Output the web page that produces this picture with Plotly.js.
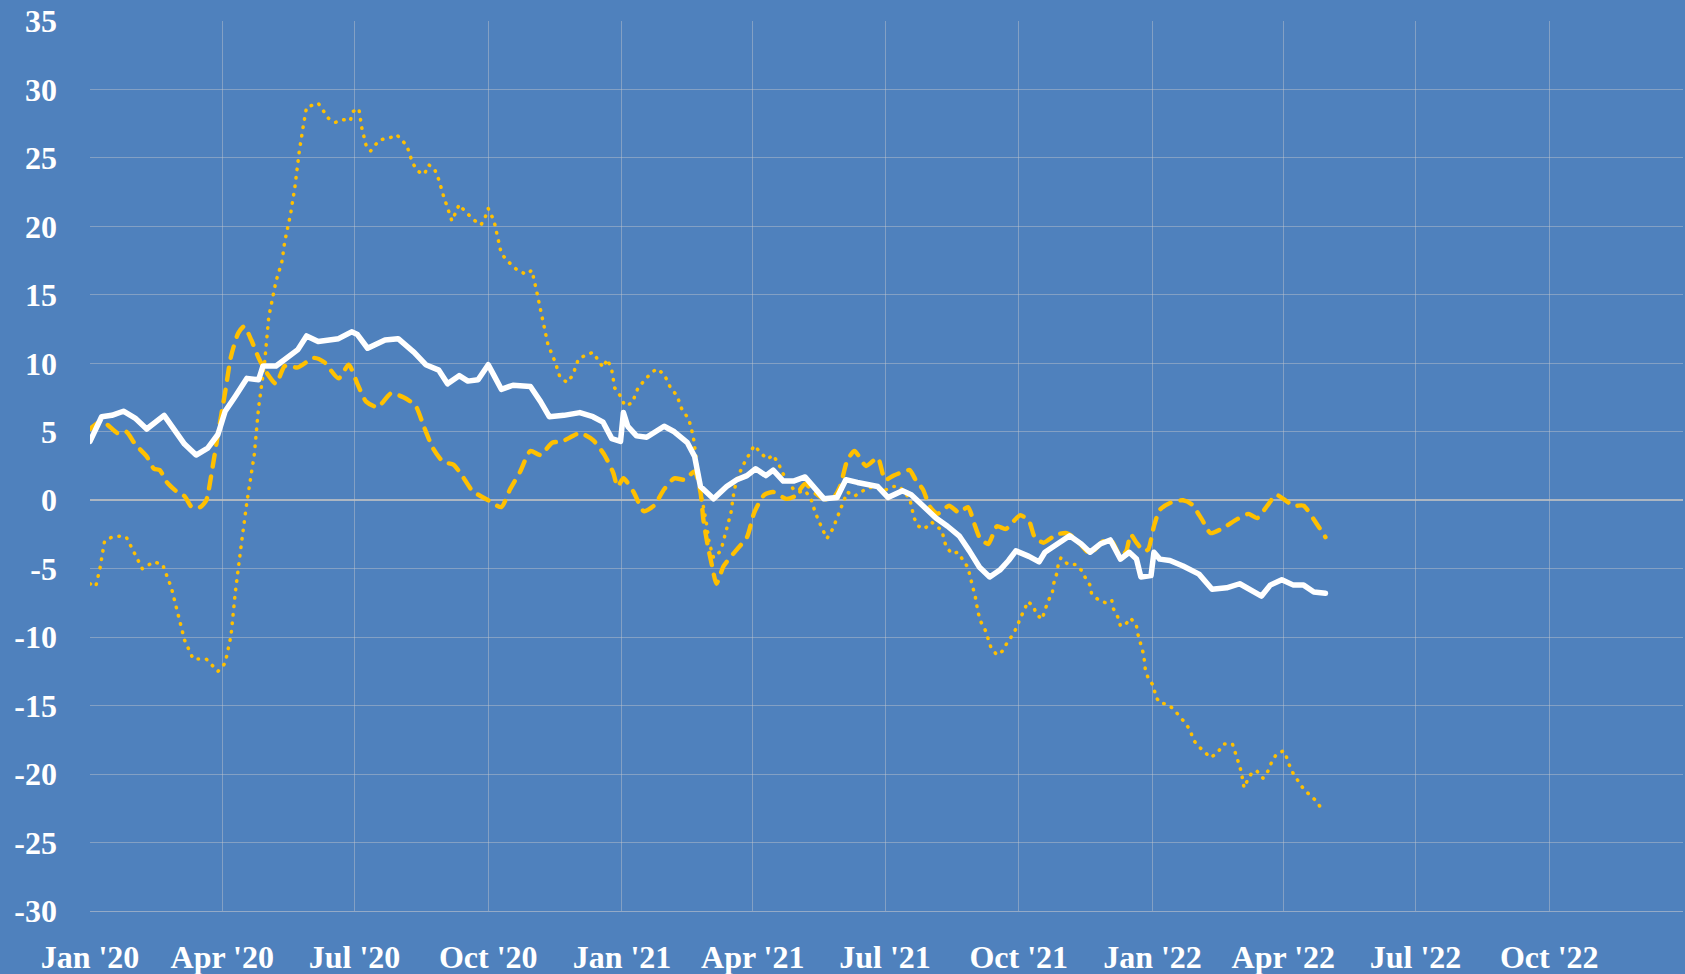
<!DOCTYPE html>
<html>
<head>
<meta charset="utf-8">
<script src="https://cdn.plot.ly/plotly-3.0.1.min.js"></script>
<style>
  html, body { margin: 0; padding: 0; background: #4F81BD; }
  #chart { width: 1685px; height: 974px; }
  .scatterlayer path.js-line { stroke-linecap: round; stroke-linejoin: round; }
</style>
</head>
<body>
<div id="chart"></div>
<script>
// ---- Data ----
const tickDates = ['2020-01-01','2020-04-01','2020-07-01','2020-10-01','2021-01-01','2021-04-01','2021-07-01','2021-10-01','2022-01-01','2022-04-01','2022-07-01','2022-10-01'];
const tickLabels = ["Jan '20","Apr '20","Jul '20","Oct '20","Jan '21","Apr '21","Jul '21","Oct '21","Jan '22","Apr '22","Jul '22","Oct '22"];
const yTicks = [35,30,25,20,15,10,5,0,-5,-10,-15,-20,-25,-30];
const yTickLabels = ['35','30','25','20','15','10','5','0','-5','-10','-15','-20','-25','-30'];

const solidDates = ['2020-01-01','2020-01-09','2020-01-16','2020-01-24','2020-02-01','2020-02-09','2020-02-21','2020-02-28','2020-03-06','2020-03-14','2020-03-22','2020-03-29','2020-04-03','2020-04-10','2020-04-18','2020-04-26','2020-04-29','2020-05-08','2020-05-16','2020-05-23','2020-05-29','2020-06-06','2020-06-20','2020-06-29','2020-07-03','2020-07-10','2020-07-22','2020-07-31','2020-08-11','2020-08-19','2020-08-28','2020-09-03','2020-09-11','2020-09-17','2020-09-24','2020-10-01','2020-10-05','2020-10-10','2020-10-18','2020-10-30','2020-11-06','2020-11-12','2020-11-22','2020-12-03','2020-12-12','2020-12-19','2020-12-25','2020-12-31','2021-01-02','2021-01-05','2021-01-11','2021-01-18','2021-01-30','2021-02-06','2021-02-15','2021-02-20','2021-02-24','2021-03-05','2021-03-14','2021-03-21','2021-03-28','2021-04-03','2021-04-10','2021-04-15','2021-04-22','2021-04-29','2021-05-07','2021-05-14','2021-05-20','2021-05-29','2021-06-04','2021-06-12','2021-06-26','2021-07-03','2021-07-13','2021-07-19','2021-07-27','2021-08-05','2021-08-13','2021-08-21','2021-08-28','2021-09-04','2021-09-11','2021-09-18','2021-09-24','2021-09-29','2021-10-08','2021-10-15','2021-10-19','2021-10-27','2021-11-05','2021-11-13','2021-11-19','2021-11-26','2021-12-03','2021-12-10','2021-12-16','2021-12-21','2021-12-24','2021-12-31','2022-01-02','2022-01-06','2022-01-13','2022-01-22','2022-02-02','2022-02-11','2022-02-21','2022-03-02','2022-03-09','2022-03-17','2022-03-23','2022-03-31','2022-04-08','2022-04-15','2022-04-22','2022-04-30'];
const solidValues = [4.3,6.1,6.2,6.5,6.0,5.2,6.2,5.2,4.1,3.3,3.8,4.8,6.5,7.6,8.9,8.8,9.8,9.8,10.5,11.0,12.0,11.6,11.8,12.3,12.1,11.1,11.7,11.8,10.8,9.9,9.5,8.5,9.1,8.7,8.8,9.9,9.1,8.1,8.4,8.3,7.2,6.1,6.2,6.4,6.1,5.7,4.5,4.3,6.4,5.4,4.7,4.6,5.4,5.0,4.2,3.2,1.0,0.1,1.0,1.5,1.8,2.3,1.8,2.2,1.4,1.4,1.7,0.9,0.1,0.2,1.5,1.3,1.0,0.2,0.7,0.4,-0.4,-1.3,-1.9,-2.6,-3.7,-4.9,-5.6,-5.1,-4.4,-3.7,-4.1,-4.5,-3.8,-3.2,-2.6,-3.2,-3.8,-3.2,-2.9,-4.3,-3.8,-4.3,-5.6,-5.5,-3.8,-4.3,-4.4,-4.8,-5.4,-6.5,-6.4,-6.1,-6.5,-7.0,-6.2,-5.8,-6.2,-6.2,-6.7,-6.8];

const dashDates = ['2020-01-01','2020-01-09','2020-01-20','2020-01-26','2020-02-01','2020-02-09','2020-02-14','2020-02-18','2020-02-23','2020-03-01','2020-03-06','2020-03-11','2020-03-17','2020-03-21','2020-03-25','2020-03-29','2020-04-03','2020-04-07','2020-04-12','2020-04-16','2020-04-21','2020-04-26','2020-05-01','2020-05-08','2020-05-14','2020-05-23','2020-06-03','2020-06-10','2020-06-20','2020-06-27','2020-07-03','2020-07-09','2020-07-17','2020-07-26','2020-08-04','2020-08-12','2020-08-18','2020-08-24','2020-08-31','2020-09-07','2020-09-13','2020-09-20','2020-10-01','2020-10-10','2020-10-16','2020-10-23','2020-10-30','2020-11-06','2020-11-14','2020-11-21','2020-12-03','2020-12-12','2020-12-20','2020-12-26','2020-12-29','2021-01-02','2021-01-09','2021-01-16','2021-01-23','2021-01-30','2021-02-06','2021-02-13','2021-02-20','2021-02-24','2021-02-26','2021-03-01','2021-03-04','2021-03-07','2021-03-12','2021-03-21','2021-03-28','2021-04-02','2021-04-09','2021-04-15','2021-04-24','2021-04-30','2021-05-07','2021-05-13','2021-05-20','2021-05-26','2021-05-31','2021-06-05','2021-06-10','2021-06-18','2021-06-26','2021-07-01','2021-07-07','2021-07-14','2021-07-18','2021-07-22','2021-07-27','2021-08-01','2021-08-06','2021-08-14','2021-08-21','2021-08-27','2021-09-01','2021-09-04','2021-09-10','2021-09-16','2021-09-22','2021-10-02','2021-10-08','2021-10-12','2021-10-18','2021-10-27','2021-11-03','2021-11-09','2021-11-19','2021-11-28','2021-12-04','2021-12-10','2021-12-14','2021-12-17','2021-12-21','2021-12-26','2021-12-29','2022-01-02','2022-01-06','2022-01-13','2022-01-22','2022-01-28','2022-02-04','2022-02-10','2022-02-19','2022-02-28','2022-03-08','2022-03-14','2022-03-21','2022-03-27','2022-04-01','2022-04-08','2022-04-15','2022-04-22','2022-04-30'];
const dashValues = [5.2,5.8,4.9,5.0,4.1,3.2,2.3,2.2,1.3,0.6,0.3,-0.5,-0.5,0.0,2.2,4.8,7.9,10.5,12.2,12.7,11.7,10.4,9.4,8.5,9.8,9.7,10.4,10.1,8.9,9.9,8.5,7.2,6.8,7.8,7.5,6.9,5.3,3.8,2.8,2.6,1.8,0.7,0.0,-0.5,0.8,2.1,3.6,3.3,4.2,4.3,4.9,4.4,3.3,2.0,1.0,1.6,0.6,-0.8,-0.4,0.8,1.6,1.5,2.1,0.6,-1.4,-3.3,-4.8,-6.1,-4.8,-3.6,-2.7,-0.9,0.4,0.6,0.1,0.3,1.2,0.6,0.1,0.1,1.0,2.9,3.6,2.5,3.1,1.5,1.8,2.1,2.2,1.5,0.8,-0.5,-1.0,-0.4,-0.9,-0.5,-1.9,-2.7,-3.2,-1.9,-2.1,-1.1,-1.5,-2.7,-3.1,-2.5,-2.4,-2.8,-3.9,-3.0,-3.0,-4.1,-3.7,-2.5,-3.1,-3.7,-3.6,-1.9,-0.7,-0.2,0.0,-0.3,-1.4,-2.4,-2.0,-1.4,-1.0,-1.3,-0.4,0.4,0.1,-0.4,-0.4,-1.4,-2.7];

const dotDates = ['2020-01-01','2020-01-05','2020-01-08','2020-01-11','2020-01-16','2020-01-23','2020-01-26','2020-02-01','2020-02-06','2020-02-14','2020-02-20','2020-02-26','2020-03-02','2020-03-06','2020-03-12','2020-03-21','2020-03-29','2020-04-03','2020-04-07','2020-04-10','2020-04-14','2020-04-18','2020-04-23','2020-04-26','2020-04-30','2020-05-03','2020-05-08','2020-05-12','2020-05-14','2020-05-18','2020-05-21','2020-05-24','2020-05-27','2020-05-29','2020-06-06','2020-06-13','2020-06-18','2020-06-23','2020-06-28','2020-06-30','2020-07-04','2020-07-06','2020-07-09','2020-07-12','2020-07-18','2020-07-26','2020-07-30','2020-08-06','2020-08-10','2020-08-14','2020-08-18','2020-08-21','2020-08-25','2020-08-28','2020-08-31','2020-09-04','2020-09-06','2020-09-11','2020-09-15','2020-09-22','2020-09-26','2020-09-29','2020-10-01','2020-10-05','2020-10-08','2020-10-10','2020-10-15','2020-10-21','2020-10-27','2020-10-31','2020-11-03','2020-11-06','2020-11-09','2020-11-11','2020-11-16','2020-11-19','2020-11-24','2020-11-28','2020-12-02','2020-12-07','2020-12-12','2020-12-15','2020-12-19','2020-12-22','2020-12-25','2020-12-27','2020-12-31','2021-01-03','2021-01-08','2021-01-12','2021-01-17','2021-01-21','2021-01-25','2021-01-30','2021-02-03','2021-02-08','2021-02-11','2021-02-16','2021-02-19','2021-02-21','2021-02-23','2021-02-25','2021-02-28','2021-03-02','2021-03-05','2021-03-09','2021-03-11','2021-03-14','2021-03-17','2021-03-19','2021-03-21','2021-03-25','2021-03-28','2021-04-02','2021-04-07','2021-04-11','2021-04-15','2021-04-19','2021-04-22','2021-04-26','2021-04-29','2021-05-03','2021-05-07','2021-05-11','2021-05-14','2021-05-18','2021-05-22','2021-05-26','2021-05-30','2021-06-03','2021-06-05','2021-06-10','2021-06-14','2021-06-19','2021-06-26','2021-06-30','2021-07-07','2021-07-11','2021-07-18','2021-07-21','2021-07-24','2021-07-28','2021-08-02','2021-08-09','2021-08-12','2021-08-16','2021-08-20','2021-08-24','2021-08-27','2021-08-30','2021-09-01','2021-09-03','2021-09-05','2021-09-08','2021-09-10','2021-09-12','2021-09-16','2021-09-20','2021-09-23','2021-09-27','2021-09-30','2021-10-02','2021-10-05','2021-10-07','2021-10-11','2021-10-13','2021-10-17','2021-10-19','2021-10-21','2021-10-24','2021-10-25','2021-10-27','2021-10-28','2021-10-30','2021-11-04','2021-11-09','2021-11-13','2021-11-16','2021-11-19','2021-11-20','2021-11-25','2021-11-30','2021-12-04','2021-12-05','2021-12-08','2021-12-10','2021-12-14','2021-12-17','2021-12-21','2021-12-22','2021-12-24','2021-12-26','2021-12-27','2021-12-29','2022-01-02','2022-01-03','2022-01-06','2022-01-11','2022-01-15','2022-01-19','2022-01-23','2022-01-27','2022-01-29','2022-02-02','2022-02-06','2022-02-10','2022-02-15','2022-02-19','2022-02-25','2022-02-27','2022-03-01','2022-03-03','2022-03-05','2022-03-08','2022-03-11','2022-03-14','2022-03-18','2022-03-22','2022-03-24','2022-03-27','2022-04-01','2022-04-03','2022-04-05','2022-04-08','2022-04-12','2022-04-15','2022-04-19','2022-04-24','2022-04-27'];
const dotValues = [-6.1,-6.3,-4.9,-3.0,-2.7,-2.6,-2.7,-3.9,-5.0,-4.5,-4.7,-6.4,-8.4,-10.2,-11.6,-11.6,-12.5,-11.9,-9.9,-6.7,-3.3,-0.1,3.3,6.8,9.9,13.4,16.0,17.4,18.9,20.9,22.9,25.5,27.5,28.7,29.0,27.9,27.6,27.8,27.7,28.4,28.6,27.2,25.9,25.5,26.3,26.5,26.7,25.9,24.6,24.0,23.8,24.5,24.2,23.4,22.3,21.0,20.4,21.6,21.1,20.4,20.1,20.7,21.3,20.4,18.9,18.0,17.4,16.8,16.5,16.8,15.4,13.9,12.7,11.4,10.1,9.1,8.6,9.1,10.3,10.6,10.8,10.3,9.7,10.3,9.5,8.2,7.6,6.9,7.1,8.2,8.8,9.3,9.6,9.2,8.3,7.6,6.7,5.9,4.7,3.2,2.0,0.1,-1.6,-3.1,-4.2,-3.8,-3.3,-2.1,-0.9,0.6,1.5,2.5,3.1,4.0,3.4,3.0,3.3,2.6,1.9,1.3,0.8,0.6,0.7,0.1,-0.9,-1.9,-2.8,-2.1,-1.0,0.1,0.6,0.3,0.6,0.9,1.0,0.7,1.0,1.0,0.1,-1.3,-1.9,-2.1,-1.6,-2.2,-3.4,-3.9,-3.8,-4.4,-4.9,-6.2,-7.0,-8.2,-8.9,-9.5,-10.2,-10.8,-11.3,-11.0,-10.4,-9.8,-9.2,-8.6,-8.0,-7.4,-7.7,-8.3,-8.7,-8.0,-7.4,-6.8,-6.1,-5.4,-4.8,-4.2,-4.7,-4.7,-5.1,-5.7,-6.2,-6.8,-7.3,-7.5,-7.3,-7.9,-8.5,-9.2,-9.0,-8.6,-9.2,-9.8,-10.5,-11.3,-12.3,-13.0,-13.6,-14.3,-14.8,-14.9,-15.2,-15.7,-16.2,-16.8,-17.5,-18.0,-18.4,-18.8,-18.4,-17.8,-17.8,-18.4,-19.1,-19.8,-21.0,-20.3,-19.8,-19.8,-20.3,-19.7,-19.1,-18.6,-18.3,-18.7,-19.3,-20.0,-20.6,-21.1,-21.5,-22.0,-22.5];

// ---- Chart ----
const BG = '#4F81BD';
const GOLD = '#FFC000';
const GRID = 'rgba(195,198,205,0.45)';

const traces = [
  { x: dotDates, y: dotValues, type: 'scatter', mode: 'lines',
    line: { color: GOLD, width: 3.5, dash: '0.5px,8px', shape: 'linear' }, hoverinfo: 'skip' },
  { x: dashDates, y: dashValues, type: 'scatter', mode: 'lines',
    line: { color: GOLD, width: 4.4, dash: '12px,10px', shape: 'spline', smoothing: 0.6 }, hoverinfo: 'skip' },
  { x: solidDates, y: solidValues, type: 'scatter', mode: 'lines',
    line: { color: '#FFFFFF', width: 5.5, shape: 'linear' }, hoverinfo: 'skip' }
];

const tickFont = { family: '"Liberation Serif", "DejaVu Serif", serif', size: 32, color: '#FFFFFF', weight: 'bold' };

const layout = {
  width: 1685, height: 974,
  paper_bgcolor: BG, plot_bgcolor: BG,
  showlegend: false,
  margin: { l: 90, r: 2, t: 21, b: 63, pad: 0 },
  xaxis: {
    type: 'date',
    range: ['2020-01-01', '2023-01-01'],
    tickmode: 'array', tickvals: tickDates, ticktext: tickLabels,
    showgrid: true, gridcolor: GRID, gridwidth: 1,
    showline: true, linecolor: 'rgba(195,198,205,0.6)', linewidth: 1, mirror: false,
    zeroline: false, ticks: '', ticklabelstandoff: 18,
    tickfont: tickFont, fixedrange: true
  },
  yaxis: {
    range: [-30, 35],
    tickmode: 'array', tickvals: yTicks, ticktext: yTickLabels,
    showgrid: true, gridcolor: GRID, gridwidth: 1,
    zeroline: true, zerolinecolor: 'rgba(195,195,195,0.8)', zerolinewidth: 1.5,
    showline: false, ticks: '', ticklabelstandoff: 32,
    tickfont: tickFont, fixedrange: true
  }
};

Plotly.newPlot('chart', traces, layout, { staticPlot: true, displayModeBar: false });
</script>
</body>
</html>
